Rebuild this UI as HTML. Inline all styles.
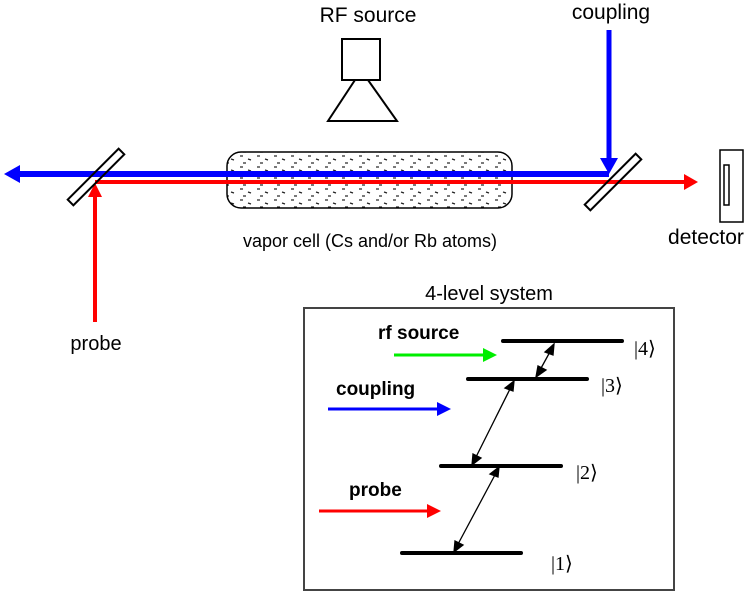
<!DOCTYPE html>
<html><head><meta charset="utf-8"><style>
html,body{margin:0;padding:0;background:#fff;}
svg{display:block;}
.s{font-family:"Liberation Sans",sans-serif;}
.k{font-family:"Liberation Serif",serif;}
</style></head><body>
<svg width="751" height="591" viewBox="0 0 751 591" xmlns="http://www.w3.org/2000/svg">
<defs>
<pattern id="dots" width="17" height="11" patternUnits="userSpaceOnUse">
<line x1="2" y1="2" x2="5" y2="2" stroke="#222" stroke-width="1.2"/>
<line x1="10" y1="5" x2="13" y2="6" stroke="#222" stroke-width="1.2"/>
<line x1="5" y1="9" x2="8" y2="9" stroke="#222" stroke-width="1.2"/>
</pattern>
</defs>
<g class="s">
<text x="368" y="22" font-size="21" text-anchor="middle">RF  source</text>
<text x="611" y="19" font-size="21" text-anchor="middle">coupling</text>
<text x="370" y="247" font-size="18" text-anchor="middle">vapor cell (Cs and/or Rb atoms)</text>
<text x="706" y="244" font-size="21" text-anchor="middle">detector</text>
<text x="96" y="350" font-size="20" text-anchor="middle">probe</text>
<text x="489" y="300" font-size="20" text-anchor="middle">4-level system</text>
</g>
<rect x="342" y="39" width="38" height="41" fill="none" stroke="#000" stroke-width="2"/>
<polygon points="355,80 368,80 397,121 328,121" fill="none" stroke="#000" stroke-width="2"/>
<rect x="227" y="152" width="285" height="56" rx="14" fill="url(#dots)" stroke="#000" stroke-width="1.5"/>
<line x1="16" y1="174" x2="609" y2="174" stroke="#0000ff" stroke-width="6"/>
<polygon points="4,174 20,165 20,183" fill="#0000ff"/>
<line x1="609" y1="30" x2="609" y2="162" stroke="#0000ff" stroke-width="5"/>
<polygon points="609,174 600,158 618,158" fill="#0000ff"/>
<line x1="95" y1="182" x2="686" y2="182" stroke="#ff0000" stroke-width="4"/>
<polygon points="698,182 684,174 684,190" fill="#ff0000"/>
<line x1="95" y1="322" x2="95" y2="194" stroke="#ff0000" stroke-width="4"/>
<polygon points="95,183 88,197 102,197" fill="#ff0000"/>
<g transform="translate(96,177) rotate(-45)"><rect x="-36" y="-4" width="72" height="8" fill="none" stroke="#000" stroke-width="2"/></g>
<g transform="translate(613,182) rotate(-45)"><rect x="-36" y="-4" width="72" height="8" fill="none" stroke="#000" stroke-width="2"/></g>
<rect x="720" y="150" width="23" height="72" fill="none" stroke="#000" stroke-width="1.5"/>
<rect x="724" y="165" width="5" height="40" fill="none" stroke="#000" stroke-width="1.5"/>
<rect x="304" y="308" width="370" height="282" fill="none" stroke="#444" stroke-width="2"/>
<g stroke="#000" stroke-width="4" stroke-linecap="round">
<line x1="503" y1="341" x2="622" y2="341"/>
<line x1="468" y1="379" x2="587" y2="379"/>
<line x1="441" y1="466" x2="561" y2="466"/>
<line x1="402" y1="553" x2="521" y2="553"/>
</g>
<g class="k" font-size="20">
<text x="634" y="355">|4⟩</text>
<text x="601" y="392">|3⟩</text>
<text x="576" y="479">|2⟩</text>
<text x="551" y="570">|1⟩</text>
</g>
<g stroke="#000" stroke-width="1.3" fill="#000">
<line x1="551" y1="350" x2="540" y2="370"/>
<polygon points="554,344 545,352 553,355"/><polygon points="536,377 538,366 546,370"/>
<line x1="511" y1="387" x2="475" y2="459"/>
<polygon points="514,381 505,388 513,391"/><polygon points="472,465 473,454 481,458"/>
<line x1="496" y1="473" x2="457" y2="546"/>
<polygon points="499,467 490,474 498,477"/><polygon points="454,552 455,541 463,545"/>
</g>
<g class="s" font-weight="bold" font-size="19">
<text x="378" y="339">rf source</text>
<text x="336" y="395">coupling</text>
<text x="349" y="496">probe</text>
</g>
<line x1="394" y1="355" x2="484" y2="355" stroke="#00ee00" stroke-width="3"/>
<polygon points="497,355 483,348 483,362" fill="#00ee00"/>
<line x1="328" y1="409" x2="438" y2="409" stroke="#0000ff" stroke-width="3"/>
<polygon points="451,409 437,402 437,416" fill="#0000ff"/>
<line x1="319" y1="511" x2="428" y2="511" stroke="#ff0000" stroke-width="3"/>
<polygon points="441,511 427,504 427,518" fill="#ff0000"/>
</svg>
</body></html>
